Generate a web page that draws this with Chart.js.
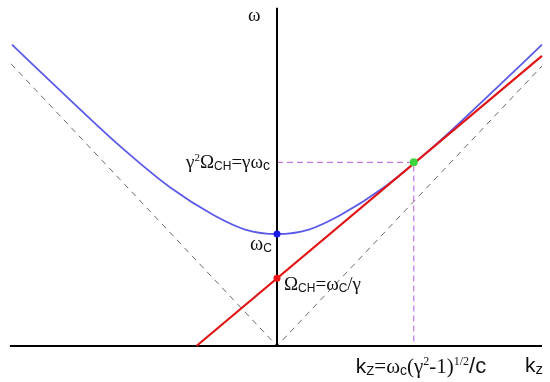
<!DOCTYPE html>
<html lang="en">
<head>
<meta charset="UTF-8">
<title>Dispersion</title>
<script src="https://cdn.jsdelivr.net/npm/chart.js"></script>
<style>
  body { margin: 0; background: #fff; }
  #box { width: 550px; height: 382px; }
</style>
</head>
<body>
<div id="box"><canvas id="myChart"></canvas></div>
<script>
  // values (k in units of omega_c/c, omega in units of omega_c)
  const curveK = [-2.5, -2.0, -1.5, -1.0, -0.6, -0.3, 0, 0.3, 0.6, 1.0, 1.5, 2.0, 2.5]
  const curveW = [2.69, 2.24, 1.80, 1.41, 1.17, 1.04, 1, 1.04, 1.17, 1.41, 1.80, 2.24, 2.69]
  const redK = [-0.76, 2.5]
  const redW = [0, 2.59]
  const lightK = [-2.51, 0, 2.5]
  const lightW = [2.52, 0, 2.5]
  const guideK = [0, 1.29, 1.29]
  const guideW = [1.64, 1.64, 0]
  const axisXK = [-2.52, 2.5]
  const axisYW = [3.02, 0]
  const omegaCH = 0.606

  function pts(xs, ys) { return xs.map((x, i) => ({ x: x, y: ys[i] })) }

  const SERIF = 'Liberation Serif'
  const SANS = 'Liberation Sans'

  // draw a label made of pieces: [text, family, size, dy]
  function rich(ctx, parts, x, y, align) {
    let w = 0
    parts.forEach(p => { ctx.font = p[2] + 'px "' + p[1] + '"'; w += ctx.measureText(p[0]).width })
    let cx = align == 'right' ? x - w : align == 'center' ? x - w / 2 : x
    parts.forEach(p => {
      ctx.font = p[2] + 'px "' + p[1] + '"'
      ctx.fillText(p[0], cx, y + (p[3] || 0))
      cx += ctx.measureText(p[0]).width
    })
  }

  const labels = {
    id: 'labels',
    afterDatasetsDraw(chart) {
      const c = chart.ctx, sx = chart.scales.x, sy = chart.scales.y
      c.save()
      c.fillStyle = '#111'
      c.textBaseline = 'alphabetic'
      const x0 = sx.getPixelForValue(0)
      rich(c, [['ω', SERIF, 19]], x0 - 29, 21, 'left')
      rich(c, [['γ', SERIF, 19], ['2', SERIF, 11, -7], ['Ω', SERIF, 19], ['CH', SANS, 12, 2], ['=γω', SERIF, 19], ['c', SANS, 14, 2]],
        x0 - 7, sy.getPixelForValue(guideW[0]) + 6, 'right')
      rich(c, [['ω', SERIF, 20], ['C', SANS, 12, 2]], x0 - 27, sy.getPixelForValue(1) + 16, 'left')
      rich(c, [['Ω', SERIF, 19], ['CH', SANS, 12, 2], ['=ω', SERIF, 19], ['C', SANS, 12, 2], ['/γ', SERIF, 19]],
        x0 + 7, sy.getPixelForValue(omegaCH) + 12, 'left')
      rich(c, [['k', SANS, 21], ['Z', SANS, 13, 2], ['=ω', SERIF, 21], ['c', SANS, 14, 2], ['(γ', SERIF, 21], ['2', SERIF, 12, -8],
        ['-1)', SERIF, 21], ['1/2', SERIF, 12, -8], ['/c', SANS, 22]],
        421, 373, 'center')
      rich(c, [['k', SANS, 21], ['z', SANS, 15, 2]], 525, 372, 'left')
      c.restore()
    }
  }

  const line = (data, color, width, dash) => ({
    data: data, borderColor: color, borderWidth: width, borderDash: dash || [],
    showLine: true, pointRadius: 0, fill: false
  })

  // first dataset is drawn on top in chart.js, so markers come first
  new Chart(document.getElementById('myChart'), {
    type: 'scatter',
    data: {
      datasets: [
        { data: pts([guideK[1]], [guideW[0]]), pointRadius: 4, backgroundColor: '#3ed63e', borderWidth: 0 },
        { data: pts([0], [omegaCH]), pointRadius: 3.5, backgroundColor: '#f01414', borderWidth: 0 },
        { data: pts([0], [1]), pointRadius: 3.5, backgroundColor: '#1a1ae8', borderWidth: 0 },
        line(pts(redK, redW), '#e01414', 2.2),
        Object.assign(line(pts(curveK, curveW), '#5a5ae8', 1.8), { cubicInterpolationMode: 'monotone' }),
        line(pts([0, 0], axisYW), '#000', 2),
        line(pts(axisXK, [0, 0]), '#000', 2),
        line(pts(guideK, guideW), '#c47ae6', 1.2, [6, 4]),
        line(pts(lightK, lightW), '#6a6a6a', 1, [6, 5])
      ]
    },
    options: {
      responsive: true,
      maintainAspectRatio: false,
      animation: false,
      layout: { padding: 0, autoPadding: false },
      plugins: { legend: { display: false }, tooltip: { enabled: false } },
      scales: {
        x: { type: 'linear', display: false, min: -277 / 106, max: (550 - 277) / 106 },
        y: { type: 'linear', display: false, min: -(382 - 346) / 112, max: 346 / 112 }
      }
    },
    plugins: [labels]
  });
</script>
</body>
</html>
